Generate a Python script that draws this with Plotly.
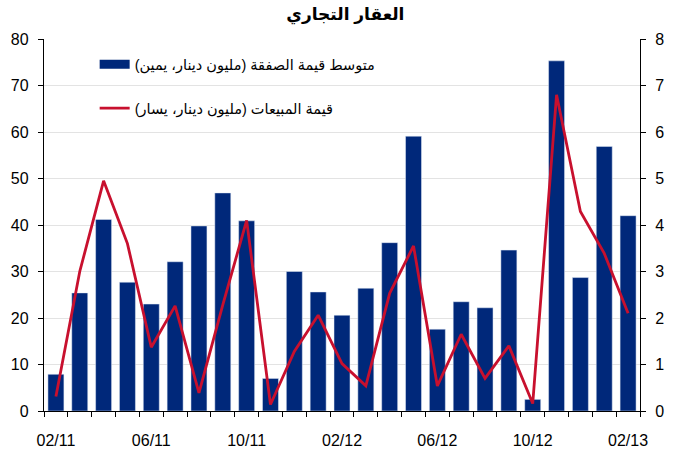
import plotly.graph_objects as go

months = ["02/11","03/11","04/11","05/11","06/11","07/11","08/11","09/11","10/11","11/11","12/11","01/12",
          "02/12","03/12","04/12","05/12","06/12","07/12","08/12","09/12","10/12","11/12","12/12","01/13","02/13"]
avg_deal = [0.79, 2.54, 4.12, 2.77, 2.30, 3.21, 3.98, 4.69, 4.09, 0.70, 3.00, 2.56,
            2.06, 2.64, 3.62, 5.91, 1.76, 2.35, 2.22, 3.46, 0.25, 7.53, 2.87, 5.69, 4.20]
sales = [3.1, 30.0, 49.5, 36.0, 13.7, 22.6, 3.9, 22.8, 41.0, 1.4, 12.8, 20.6,
         10.2, 5.4, 25.3, 35.5, 5.4, 16.5, 7.0, 14.0, 1.6, 68.0, 42.9, 33.9, 21.0]
tick_labels = ["02/11", "06/11", "10/11", "02/12", "06/12", "10/12", "02/13"]

title = "العقار التجاري"
name_bar = "متوسط قيمة الصفقة (مليون دينار، يمين)"
name_line = "قيمة المبيعات (مليون دينار، يسار)"

x = list(range(len(months)))
font = "Arial, Liberation Sans, DejaVu Sans, sans-serif"
bar_color = "#00287A"

fig = go.Figure()
fig.add_trace(go.Bar(x=x, y=avg_deal, name=name_bar, marker_color=bar_color,
                     width=0.67, yaxis="y", legendgroup="a", showlegend=False))
# legend swatch for the bars (wide rectangle like the original)
fig.add_trace(go.Scatter(x=[None], y=[None], name=name_bar, mode="lines",
                         line=dict(color=bar_color, width=9), yaxis="y", legendgroup="a"))
fig.add_trace(go.Scatter(x=x, y=sales, name=name_line, mode="lines",
                         line=dict(color="#C8102E", width=2.8), yaxis="y2", legendgroup="b"))

fig.update_layout(
    width=684, height=450,
    margin=dict(l=44, r=44, t=39, b=39),
    paper_bgcolor="white", plot_bgcolor="white",
    font=dict(family=font, size=16, color="black"),
    title=dict(text="<b>" + title + "</b>", x=0.505, xanchor="center", y=0.968, yanchor="middle",
               font=dict(size=17, family=font)),
    showlegend=True,
    legend=dict(x=0.085, y=0.975, xanchor="left", yanchor="top", bgcolor="rgba(0,0,0,0)",
                font=dict(size=14.5), tracegroupgap=22, traceorder="grouped"),
    bargap=0.33,
    xaxis=dict(range=[-0.5, len(months) - 0.5], tickmode="array",
               tickvals=[months.index(t) for t in tick_labels], ticktext=tick_labels,
               ticks="", showline=True, linecolor="black", linewidth=1.3, showgrid=False,
               zeroline=False, ticklabelstandoff=15, automargin=False,
               minor=dict(tickmode="array", tickvals=[i - 0.5 for i in range(len(months) + 1)],
                          ticks="outside", ticklen=5, tickcolor="black", tickwidth=1.3, showgrid=False)),
    yaxis=dict(range=[0, 8], dtick=1, side="right", showline=True, linecolor="black", linewidth=1.3,
               ticks="outside", ticklen=5, tickcolor="black", showgrid=True, gridcolor="#E3E3E3",
               zeroline=False, ticklabelstandoff=6, automargin=False),
    yaxis2=dict(range=[0, 80], dtick=10, side="left", overlaying="y", showline=True, linecolor="black",
                linewidth=1.3, ticks="outside", ticklen=5, tickcolor="black", showgrid=False,
                zeroline=False, ticklabelstandoff=6, automargin=False),
)

fig.write_html("out.html")
